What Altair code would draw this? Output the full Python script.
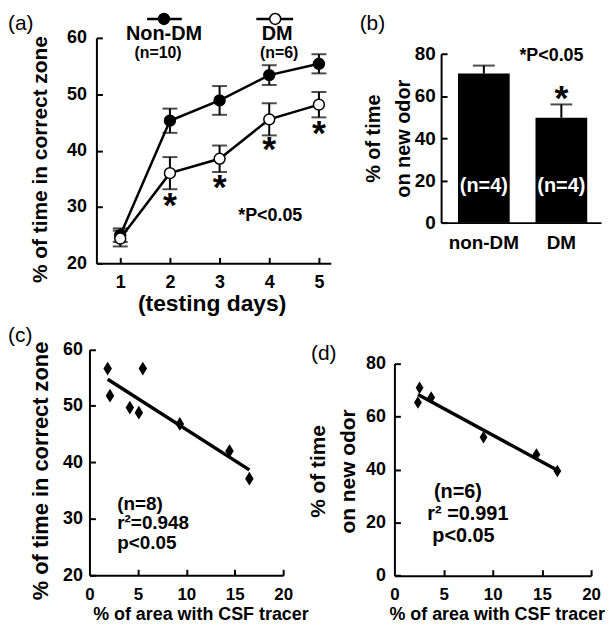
import altair as alt
import pandas as pd

FONT = "Liberation Sans"

# ---------------- data ----------------
# (a) learning curve
days = [1, 2, 3, 4, 5]
nondm_mean = [25.0, 45.3, 48.9, 53.4, 55.4]
nondm_err = [1.2, 2.15, 2.55, 1.75, 1.7]
dm_mean = [24.4, 36.0, 38.55, 45.55, 48.15]
dm_err = [1.4, 2.85, 2.35, 2.85, 2.25]
sig_days = [2, 3, 4, 5]
sig_y = [30.9, 34.1, 40.8, 43.6]
a_group_names = ["Non-DM", "DM"]
a_group_n = ["(n=10)", "(n=6)"]

# (b) odor test
odor_groups = ["non-DM", "DM"]
odor_mean = [70.6, 49.7]
odor_err = [3.8, 6.3]
odor_n = ["(n=4)", "(n=4)"]

# (c) correlation, correct zone
c_x = [1.88, 2.12, 4.17, 5.10, 5.51, 9.33, 14.46, 16.51]
c_y = [56.6, 51.8, 49.7, 48.8, 56.6, 46.8, 42.0, 37.1]

# (d) correlation, new odor
d_x = [2.56, 2.39, 3.74, 9.06, 14.44, 16.57]
d_y = [70.9, 65.3, 67.2, 52.2, 45.7, 39.5]

a_xticks = [1, 2, 3, 4, 5]
a_yticks = [20, 30, 40, 50, 60]
b_yticks = [0, 20, 40, 60, 80]
c_xticks = [0, 5, 10, 15, 20]
c_yticks = [20, 30, 40, 50, 60]
d_xticks = [0, 5, 10, 15, 20]
d_yticks = [0, 20, 40, 60, 80]

W, H = 597, 610
DIAMOND = "M0,-1L0.62,0L0,1L-0.62,0Z"


def main_axis(orient, offset, values, title, label_size, label_pad,
              title_size=None, title_x=None, title_y=None, line_height=None):
    kw = dict(orient=orient, offset=offset, grid=False,
              domain=True, domainColor="black", domainWidth=2,
              ticks=False, labelAngle=0,
              labelFont=FONT, labelFontWeight="bold", labelFontSize=label_size,
              labelColor="black", labelPadding=label_pad, labelFlush=False,
              labelOverlap=False, title=title)
    if values is not None:
        kw["values"] = values
    if title is not None:
        kw.update(titleFont=FONT, titleFontWeight="bold", titleFontSize=title_size,
                  titleColor="black", titleX=title_x, titleY=title_y,
                  titleBaseline="alphabetic", titleAlign="center",
                  titleAngle=270 if orient == "left" else 0)
        if line_height:
            kw["titleLineHeight"] = line_height
    return alt.Axis(**kw)


def tick_axis(orient, offset, values):
    return alt.Axis(orient=orient, offset=offset, values=values, title=None, grid=False,
                    domain=False, labels=False, ticks=True, tickSize=6, tickWidth=2,
                    tickColor="black")


def bold(**kw):
    d = dict(font=FONT, fontWeight="bold", color="black")
    d.update(kw)
    return d


# ---------------- panel (a) ----------------
dfA = pd.DataFrame({
    "day": days * 2,
    "group": [a_group_names[0]] * 5 + [a_group_names[1]] * 5,
    "mean": nondm_mean + dm_mean,
    "err": nondm_err + dm_err,
})
xA = alt.Scale(domain=[0.52, 5.24], range=[89, 325], nice=False, zero=False)
yA = alt.Scale(domain=[20, 60], range=[252, 25], nice=False, zero=False)
axA_x = main_axis("bottom", -358, a_xticks, "(testing days)", 18, 10, 23, 205, 47.5)
axA_y = main_axis("left", -89, a_yticks, "% of time in correct zone", 18, 10, 21, -50, 147)

baseA = alt.Chart(dfA).transform_calculate(
    lo="datum.mean - datum.err", hi="datum.mean + datum.err")
axisLayerA = baseA.mark_point(opacity=0).encode(
    x=alt.X("day:Q", scale=xA, axis=axA_x),
    y=alt.Y("mean:Q", scale=yA, axis=axA_y))
tickA = baseA.mark_point(opacity=0).encode(
    x=alt.X("day:Q", axis=tick_axis("bottom", -364, a_xticks)),
    y=alt.Y("mean:Q", axis=tick_axis("left", -95, a_yticks)))
errA = baseA.mark_rule(color="black", strokeWidth=2).encode(
    x=alt.X("day:Q", axis=None), y=alt.Y("lo:Q", axis=None), y2="hi:Q")
capLoA = baseA.mark_tick(orient="horizontal", size=15, thickness=2, color="black").encode(
    x=alt.X("day:Q", axis=None), y=alt.Y("lo:Q", axis=None))
capHiA = baseA.mark_tick(orient="horizontal", size=15, thickness=2, color="black").encode(
    x=alt.X("day:Q", axis=None), y=alt.Y("hi:Q", axis=None))
lineA = baseA.mark_line(color="black", strokeWidth=2.5).encode(
    x=alt.X("day:Q", axis=None), y=alt.Y("mean:Q", axis=None), detail="group:N")
fillA = alt.Fill("group:N", scale=alt.Scale(domain=a_group_names, range=["black", "white"]),
                 legend=None)
ptA = baseA.mark_point(shape="circle", filled=True, size=120, stroke="black",
                       strokeWidth=1.5, opacity=1).encode(
    x=alt.X("day:Q", axis=None), y=alt.Y("mean:Q", axis=None), fill=fillA)
sigA = alt.Chart(pd.DataFrame({"day": sig_days, "y": sig_y})).mark_text(
    text="*", fontSize=36, dy=4, **bold()).encode(
    x=alt.X("day:Q", axis=None), y=alt.Y("y:Q", axis=None))
pA = alt.Chart(pd.DataFrame({"t": ["*P<0.05"]})).mark_text(
    fontSize=18, align="center", baseline="middle", **bold()).encode(
    x=alt.XDatum(4.02, axis=None), y=alt.YDatum(28.46, axis=None), text="t:N")

legend_layers = []
leg_specs = [  # (line start, line end, centre, name x, n x, fill)
    (1.54, 2.24, 1.88, 1.88, 1.76, "black"),
    (3.74, 4.48, 4.12, 4.16, 4.20, "white"),
]
for i, (x0, x1, xc, xn, xnn, fillc) in enumerate(leg_specs):
    one = alt.Chart(pd.DataFrame({"name": [a_group_names[i]], "n": [a_group_n[i]]}))
    legend_layers.append(one.mark_rule(color="black", strokeWidth=2.5).encode(
        x=alt.XDatum(x0, axis=None), x2=alt.X2Datum(x1), y=alt.YDatum(63.35, axis=None)))
    legend_layers.append(one.mark_point(shape="circle", filled=True, size=120, fill=fillc,
                                        stroke="black", strokeWidth=1.5, opacity=1).encode(
        x=alt.XDatum(xc, axis=None), y=alt.YDatum(63.35, axis=None)))
    legend_layers.append(one.mark_text(fontSize=20, baseline="middle", **bold()).encode(
        x=alt.XDatum(xn, axis=None), y=alt.YDatum(60.7, axis=None), text="name:N"))
    legend_layers.append(one.mark_text(fontSize=16, baseline="middle", **bold()).encode(
        x=alt.XDatum(xnn, axis=None), y=alt.YDatum(57.3, axis=None), text="n:N"))

panelA = alt.layer(axisLayerA, tickA, errA, capLoA, capHiA, lineA, ptA, sigA, pA,
                   *legend_layers).resolve_axis(x="independent", y="independent")

# ---------------- panel (b) ----------------
dfB = pd.DataFrame({"group": odor_groups, "mean": odor_mean, "err": odor_err, "n": odor_n})
xB = alt.Scale(domain=odor_groups, range=[436, 597], paddingInner=0.333,
               paddingOuter=0.198, align=0.55)
yB = alt.Scale(domain=[0, 80], range=[211, 41], nice=False, zero=False)
axB_x = main_axis("bottom", -399, None, None, 19, 11)
axB_y = main_axis("left", -436, b_yticks, ["% of time", "on new odor"], 19, 6, 20, -62, 126, 30)

baseB = alt.Chart(dfB).transform_calculate(hi="datum.mean + datum.err")
barB = baseB.mark_bar(color="black").encode(
    x=alt.X("group:N", scale=xB, sort=odor_groups, axis=axB_x),
    y=alt.Y("mean:Q", scale=yB, axis=axB_y))
tickB = baseB.mark_point(opacity=0).encode(
    x=alt.X("group:N", sort=odor_groups, axis=None),
    y=alt.Y("mean:Q", axis=tick_axis("left", -442, b_yticks)))
errB = baseB.mark_rule(color="black", strokeWidth=2).encode(
    x=alt.X("group:N", sort=odor_groups, axis=None),
    y=alt.Y("mean:Q", axis=None), y2="hi:Q")
capB = baseB.mark_tick(orient="horizontal", size=22, thickness=2, color="black").encode(
    x=alt.X("group:N", sort=odor_groups, axis=None), y=alt.Y("hi:Q", axis=None))
nB = baseB.mark_text(fontSize=20, baseline="middle", **bold(color="white")).encode(
    x=alt.X("group:N", sort=odor_groups, axis=None),
    y=alt.YDatum(17.5, axis=None), text="n:N")
starB = alt.Chart(pd.DataFrame({"t": ["*"]})).mark_text(fontSize=36, dy=5, **bold()).encode(
    x=alt.XDatum("DM", type="nominal", axis=None), y=alt.YDatum(60.7, axis=None), text="t:N")
pB = alt.Chart(pd.DataFrame({"t": ["*P<0.05"]})).mark_text(
    fontSize=18, dx=-10, baseline="middle", **bold()).encode(
    x=alt.XDatum("DM", type="nominal", axis=None), y=alt.YDatum(79.0, axis=None), text="t:N")

panelB = alt.layer(barB, tickB, errB, capB, nB, starB, pB).resolve_axis(
    x="independent", y="independent")

# ---------------- panel (c) ----------------
dfC = pd.DataFrame({"x": c_x, "y": c_y})
xC = alt.Scale(domain=[0, 20], range=[82, 277], nice=False, zero=False)
yC = alt.Scale(domain=[20, 60], range=[566, 338.6], nice=False, zero=False)
axC_x = main_axis("bottom", -44, c_xticks, "% of area with CSF tracer", 17, 11, 18, 193.7, 45)
axC_y = main_axis("left", -82, c_yticks, "% of time in correct zone", 18, 7, 22, -42, 460.5)

baseC = alt.Chart(dfC)
ptC = baseC.mark_point(shape=DIAMOND, filled=True, size=190, color="black", opacity=1).encode(
    x=alt.X("x:Q", scale=xC, axis=axC_x), y=alt.Y("y:Q", scale=yC, axis=axC_y))
tickC = baseC.mark_point(opacity=0).encode(
    x=alt.X("x:Q", axis=tick_axis("bottom", -50, c_xticks[1:])),
    y=alt.Y("y:Q", axis=tick_axis("left", -88, c_yticks)))
regC = baseC.transform_regression("x", "y").mark_line(color="black", strokeWidth=3.5).encode(
    x=alt.X("x:Q", axis=None), y=alt.Y("y:Q", axis=None))
c_notes = [("(n=8)", 32.7), ("r²=0.948", 29.2), ("p<0.05", 25.7)]
notesC = [alt.Chart(pd.DataFrame({"t": [s]})).mark_text(
    fontSize=19, align="left", baseline="middle", **bold()).encode(
    x=alt.XDatum(2.87, axis=None), y=alt.YDatum(yv, axis=None), text="t:N")
    for s, yv in c_notes]

panelC = alt.layer(ptC, tickC, regC, *notesC).resolve_axis(x="independent", y="independent")

# ---------------- panel (d) ----------------
dfD = pd.DataFrame({"x": d_x, "y": d_y})
xD = alt.Scale(domain=[0, 20], range=[389, 587], nice=False, zero=False)
yD = alt.Scale(domain=[0, 80], range=[566.4, 352.9], nice=False, zero=False)
axD_x = main_axis("bottom", -43.6, d_xticks, "% of area with CSF tracer", 17, 11, 18, 492, 44.6)
axD_y = main_axis("left", -389, d_yticks, ["% of time", "on new odor"], 18, 9, 21, -70, 461, 30)

baseD = alt.Chart(dfD)
ptD = baseD.mark_point(shape=DIAMOND, filled=True, size=160, color="black", opacity=1).encode(
    x=alt.X("x:Q", scale=xD, axis=axD_x), y=alt.Y("y:Q", scale=yD, axis=axD_y))
tickD = baseD.mark_point(opacity=0).encode(
    x=alt.X("x:Q", axis=tick_axis("bottom", -49.6, d_xticks[1:])),
    y=alt.Y("y:Q", axis=tick_axis("left", -395, d_yticks)))
regD = baseD.transform_regression("x", "y").mark_line(color="black", strokeWidth=3.5).encode(
    x=alt.X("x:Q", axis=None), y=alt.Y("y:Q", axis=None))
d_notes = [("(n=6)", 6.46, 31.6), ("r² =0.991", 7.47, 23.1), ("p<0.05", 7.02, 14.8)]
notesD = [alt.Chart(pd.DataFrame({"t": [s]})).mark_text(
    fontSize=20, align="center", baseline="middle", **bold()).encode(
    x=alt.XDatum(xv, axis=None), y=alt.YDatum(yv, axis=None), text="t:N")
    for s, xv, yv in d_notes]

panelD = alt.layer(ptD, tickD, regD, *notesD).resolve_axis(x="independent", y="independent")

# ---------------- panel letters ----------------
letter_specs = [("(a)", 0, 0), ("(b)", 354, 0), ("(c)", 0, 314), ("(d)", 305, 332)]
letters = [alt.Chart(pd.DataFrame({"t": [s]})).mark_text(
    font=FONT, fontSize=21, fontWeight="normal", color="black",
    align="left", baseline="top").encode(
    x=alt.value(px), y=alt.value(py), text="t:N")
    for s, px, py in letter_specs]

chart = alt.layer(panelA, panelB, panelC, panelD, *letters).resolve_scale(
    x="independent", y="independent").properties(
    width=W, height=H, padding=0).configure_view(stroke=None)

chart.save("out.html", embed_options={"renderer": "svg", "actions": False})
